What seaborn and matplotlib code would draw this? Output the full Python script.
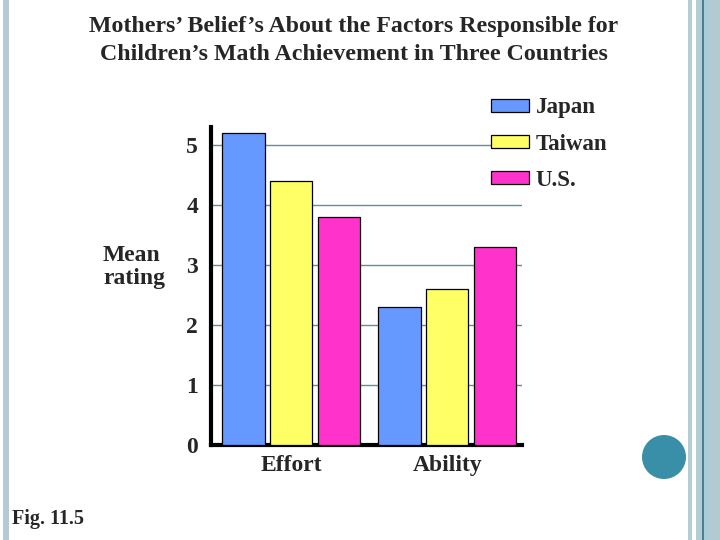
import matplotlib
matplotlib.use("Agg")
import matplotlib.pyplot as plt
from matplotlib.patches import Rectangle, Circle, Patch
import seaborn as sns
import pandas as pd

# ---- data ----
factors = ["Effort", "Ability"]
countries = ["Japan", "Taiwan", "U.S."]
japan = [5.2, 2.3]
taiwan = [4.4, 2.6]
us = [3.8, 3.3]
yticks = [0, 1, 2, 3, 4, 5]
colors = ["#6699FF", "#FFFF66", "#FF33CC"]

df = pd.DataFrame({
    "Factor": factors * 3,
    "Country": [countries[0]] * 2 + [countries[1]] * 2 + [countries[2]] * 2,
    "Rating": japan + taiwan + us,
})

sns.set_theme(style="white")
plt.rcParams["font.family"] = ["Liberation Serif", "DejaVu Serif"]
plt.rcParams["font.weight"] = "bold"

W, H = 720, 540
fig = plt.figure(figsize=(7.2, 5.4), dpi=100)
fig.patch.set_facecolor("white")

ax_left, ax_right = 210.7, 521.7
y0, ytop = 445.3, 127
ax = fig.add_axes([ax_left / W, 1 - y0 / H, (ax_right - ax_left) / W, (y0 - ytop) / H])

sns.barplot(data=df, x="Factor", y="Rating", hue="Country", order=factors,
            hue_order=countries, palette=colors, saturation=1, width=0.92, gap=0.12,
            edgecolor="black", linewidth=0.9, ax=ax, legend=False, zorder=3)

ax.set_xlim(-0.517, 1.477)
ax.set_ylim(0, (y0 - ytop) / 60.0)
ax.set_yticks(yticks)
ax.set_yticklabels([str(v) for v in yticks])
ax.set_axisbelow(True)
ax.yaxis.grid(True, color="#5f8f9c", linewidth=1.0)
ax.xaxis.grid(False)
for s in ["top", "right"]:
    ax.spines[s].set_visible(False)
for s in ["left", "bottom"]:
    ax.spines[s].set_linewidth(3)
    ax.spines[s].set_color("black")
ax.tick_params(axis="both", length=0)
ax.tick_params(axis="y", pad=9, labelsize=17)
ax.tick_params(axis="x", pad=7, labelsize=17)
for lab in ax.get_xticklabels() + ax.get_yticklabels():
    lab.set_fontweight("bold")
ax.set_xlabel("")
ax.set_ylabel("Mean\nrating", rotation=0, fontsize=17, fontweight="bold",
              ha="center", va="center", linespacing=1.08, multialignment="left")
ax.yaxis.set_label_coords((134 - ax_left) / (ax_right - ax_left), 2.97 / ((y0 - ytop) / 60.0))

handles = [Patch(facecolor=c, edgecolor="black", linewidth=0.9) for c in colors]
ax.legend(handles, countries, loc="upper left", bbox_to_anchor=(491 / W, 1 - 97.5 / H),
          bbox_transform=fig.transFigure, frameon=False, borderpad=0, borderaxespad=0,
          handlelength=1.65, handleheight=0.52, handletextpad=0.3, labelspacing=0.66,
          prop={"family": "Liberation Serif", "weight": "bold", "size": 16.5})

fig.text(354 / W, 1 - 40.5 / H,
         "Mothers\u2019 Belief\u2019s About the Factors Responsible for\n"
         "Children\u2019s Math Achievement in Three Countries",
         ha="center", va="center", fontsize=17.2, fontweight="bold", linespacing=1.38)
fig.text(12 / W, 1 - 519 / H, "Fig. 11.5", ha="left", va="center", fontsize=14.5,
         fontweight="bold")

# slide decorations
def rect(x0, x1, color):
    fig.patches.append(Rectangle((x0 / W, 0), (x1 - x0) / W, 1, transform=fig.transFigure,
                                 facecolor=color, edgecolor="none", zorder=0))

rect(3, 9, "#b4cbd4")
rect(688, 692, "#b4cdd5")
rect(696, 702, "#b4cdd5")
rect(702, 703.5, "#4a7f8f")
rect(703.5, 710, "#a9cdd8")
rect(710, 720, "#b4cad2")
circ = Circle((6.64, (H - 457) / 100), 0.22, transform=fig.dpi_scale_trans,
              facecolor="#3a8fa8", edgecolor="none")
fig.patches.append(circ)

fig.savefig("out.png", dpi=100, facecolor="white")
